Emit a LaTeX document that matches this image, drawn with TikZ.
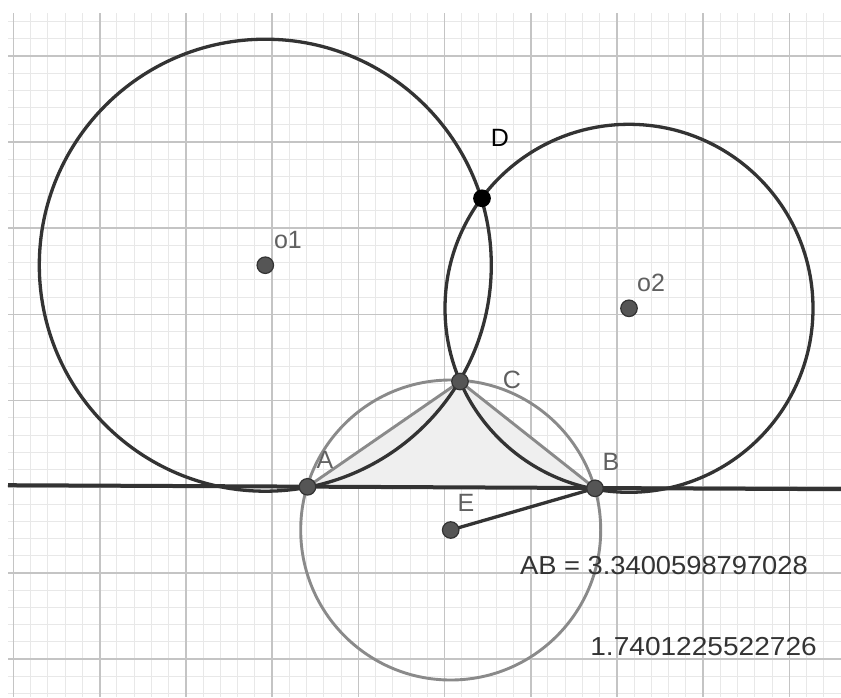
\documentclass[tikz,border=0pt]{standalone}
\usepackage{fontspec}
\setmainfont{Liberation Sans}
\usepackage{graphicx}
\definecolor{minorgrid}{HTML}{E8E8E8}
\definecolor{majorgrid}{HTML}{C4C4C4}
\definecolor{dark}{HTML}{333333}
\definecolor{ptfill}{HTML}{555555}
\definecolor{lightc}{HTML}{8A8A8A}
\definecolor{labelc}{HTML}{606060}
\definecolor{trifill}{HTML}{EFEFEF}
\begin{document}
\begin{tikzpicture}[x=1pt,y=-1pt,
  minorline/.style={minorgrid,line width=1pt},
  majorline/.style={majorgrid,line width=1.6pt},
  darkcurve/.style={dark,line width=3.3pt},
  graycurve/.style={lightc,line width=2.9pt},
  pt/.style={circle,fill=ptfill,draw=dark,line width=1.2pt,minimum size=16.5pt,inner sep=0pt},
  lbl/.style={font=\fontsize{25}{25}\selectfont,text=labelc,inner sep=0pt},
  valtxt/.style={font=\fontsize{26}{26}\selectfont,text=dark,inner sep=0pt}]
\useasboundingbox (0,0) rectangle (841,697);
\fill[white] (0,0) rectangle (841,697);
\begin{scope}
\clip (8,13) rectangle (841,697);
\foreach \i in {0,...,48} \draw[minorline] ({13.5+17.24*\i},13) -- ({13.5+17.24*\i},697);
\foreach \j in {-28,...,13} \draw[minorline] (8,{486.8+17.24*\j}) -- (841,{486.8+17.24*\j});
\foreach \i in {0,...,9} \draw[majorline] ({13.5+86.2*\i},13) -- ({13.5+86.2*\i},697);
\foreach \j in {-5,...,2} \draw[majorline] (8,{486.8+86.2*\j}) -- (841,{486.8+86.2*\j});
\end{scope}
\coordinate (A) at (307.5,486.8);
\coordinate (B) at (595,488.3);
\coordinate (C) at (460,381.5);
\coordinate (D) at (482,198.3);
\coordinate (E) at (450.7,530);
\coordinate (O1) at (265.3,265.2);
\coordinate (O2) at (629,308.3);
\coordinate (L1) at (8,485.2);
\coordinate (L2) at (841,489.2);
\fill[trifill] (A) -- (B) -- (C) -- cycle;
\draw[graycurve] (E) circle[radius=150];
\draw[graycurve] (A) -- (C) -- (B);
\draw[darkcurve] (O1) circle[radius=226];
\draw[darkcurve] (O2) circle[radius=184];
\draw[dark,line width=4pt] (L1) -- (L2);
\draw[dark,line width=3.3pt] (E) -- (B);
\node[pt] (pA) at (A) {};
\node[pt] (pB) at (B) {};
\node[pt] (pC) at (C) {};
\node[pt] (pE) at (E) {};
\node[pt] (pO1) at (O1) {};
\node[pt] (pO2) at (O2) {};
\node[pt,fill=black,draw=black] (pD) at (D) {};
\node[lbl] (lA) at (325,460) {A};
\node[lbl] (lB) at (611,462) {B};
\node[lbl] (lC) at (512,380) {C};
\node[lbl,text=black] (lD) at (500,138) {D};
\node[lbl] (lE) at (466,503) {E};
\node[lbl] (lO1) at (288,240) {o1};
\node[lbl] (lO2) at (651,283) {o2};
\node[valtxt] (ab) at (664,566) {\scalebox{1.05}[1]{AB = 3.3400598797028}};
\node[valtxt,anchor=east] (val) at (817,647) {\scalebox{1.08}[1]{1.7401225522726}};
\end{tikzpicture}
\end{document}
